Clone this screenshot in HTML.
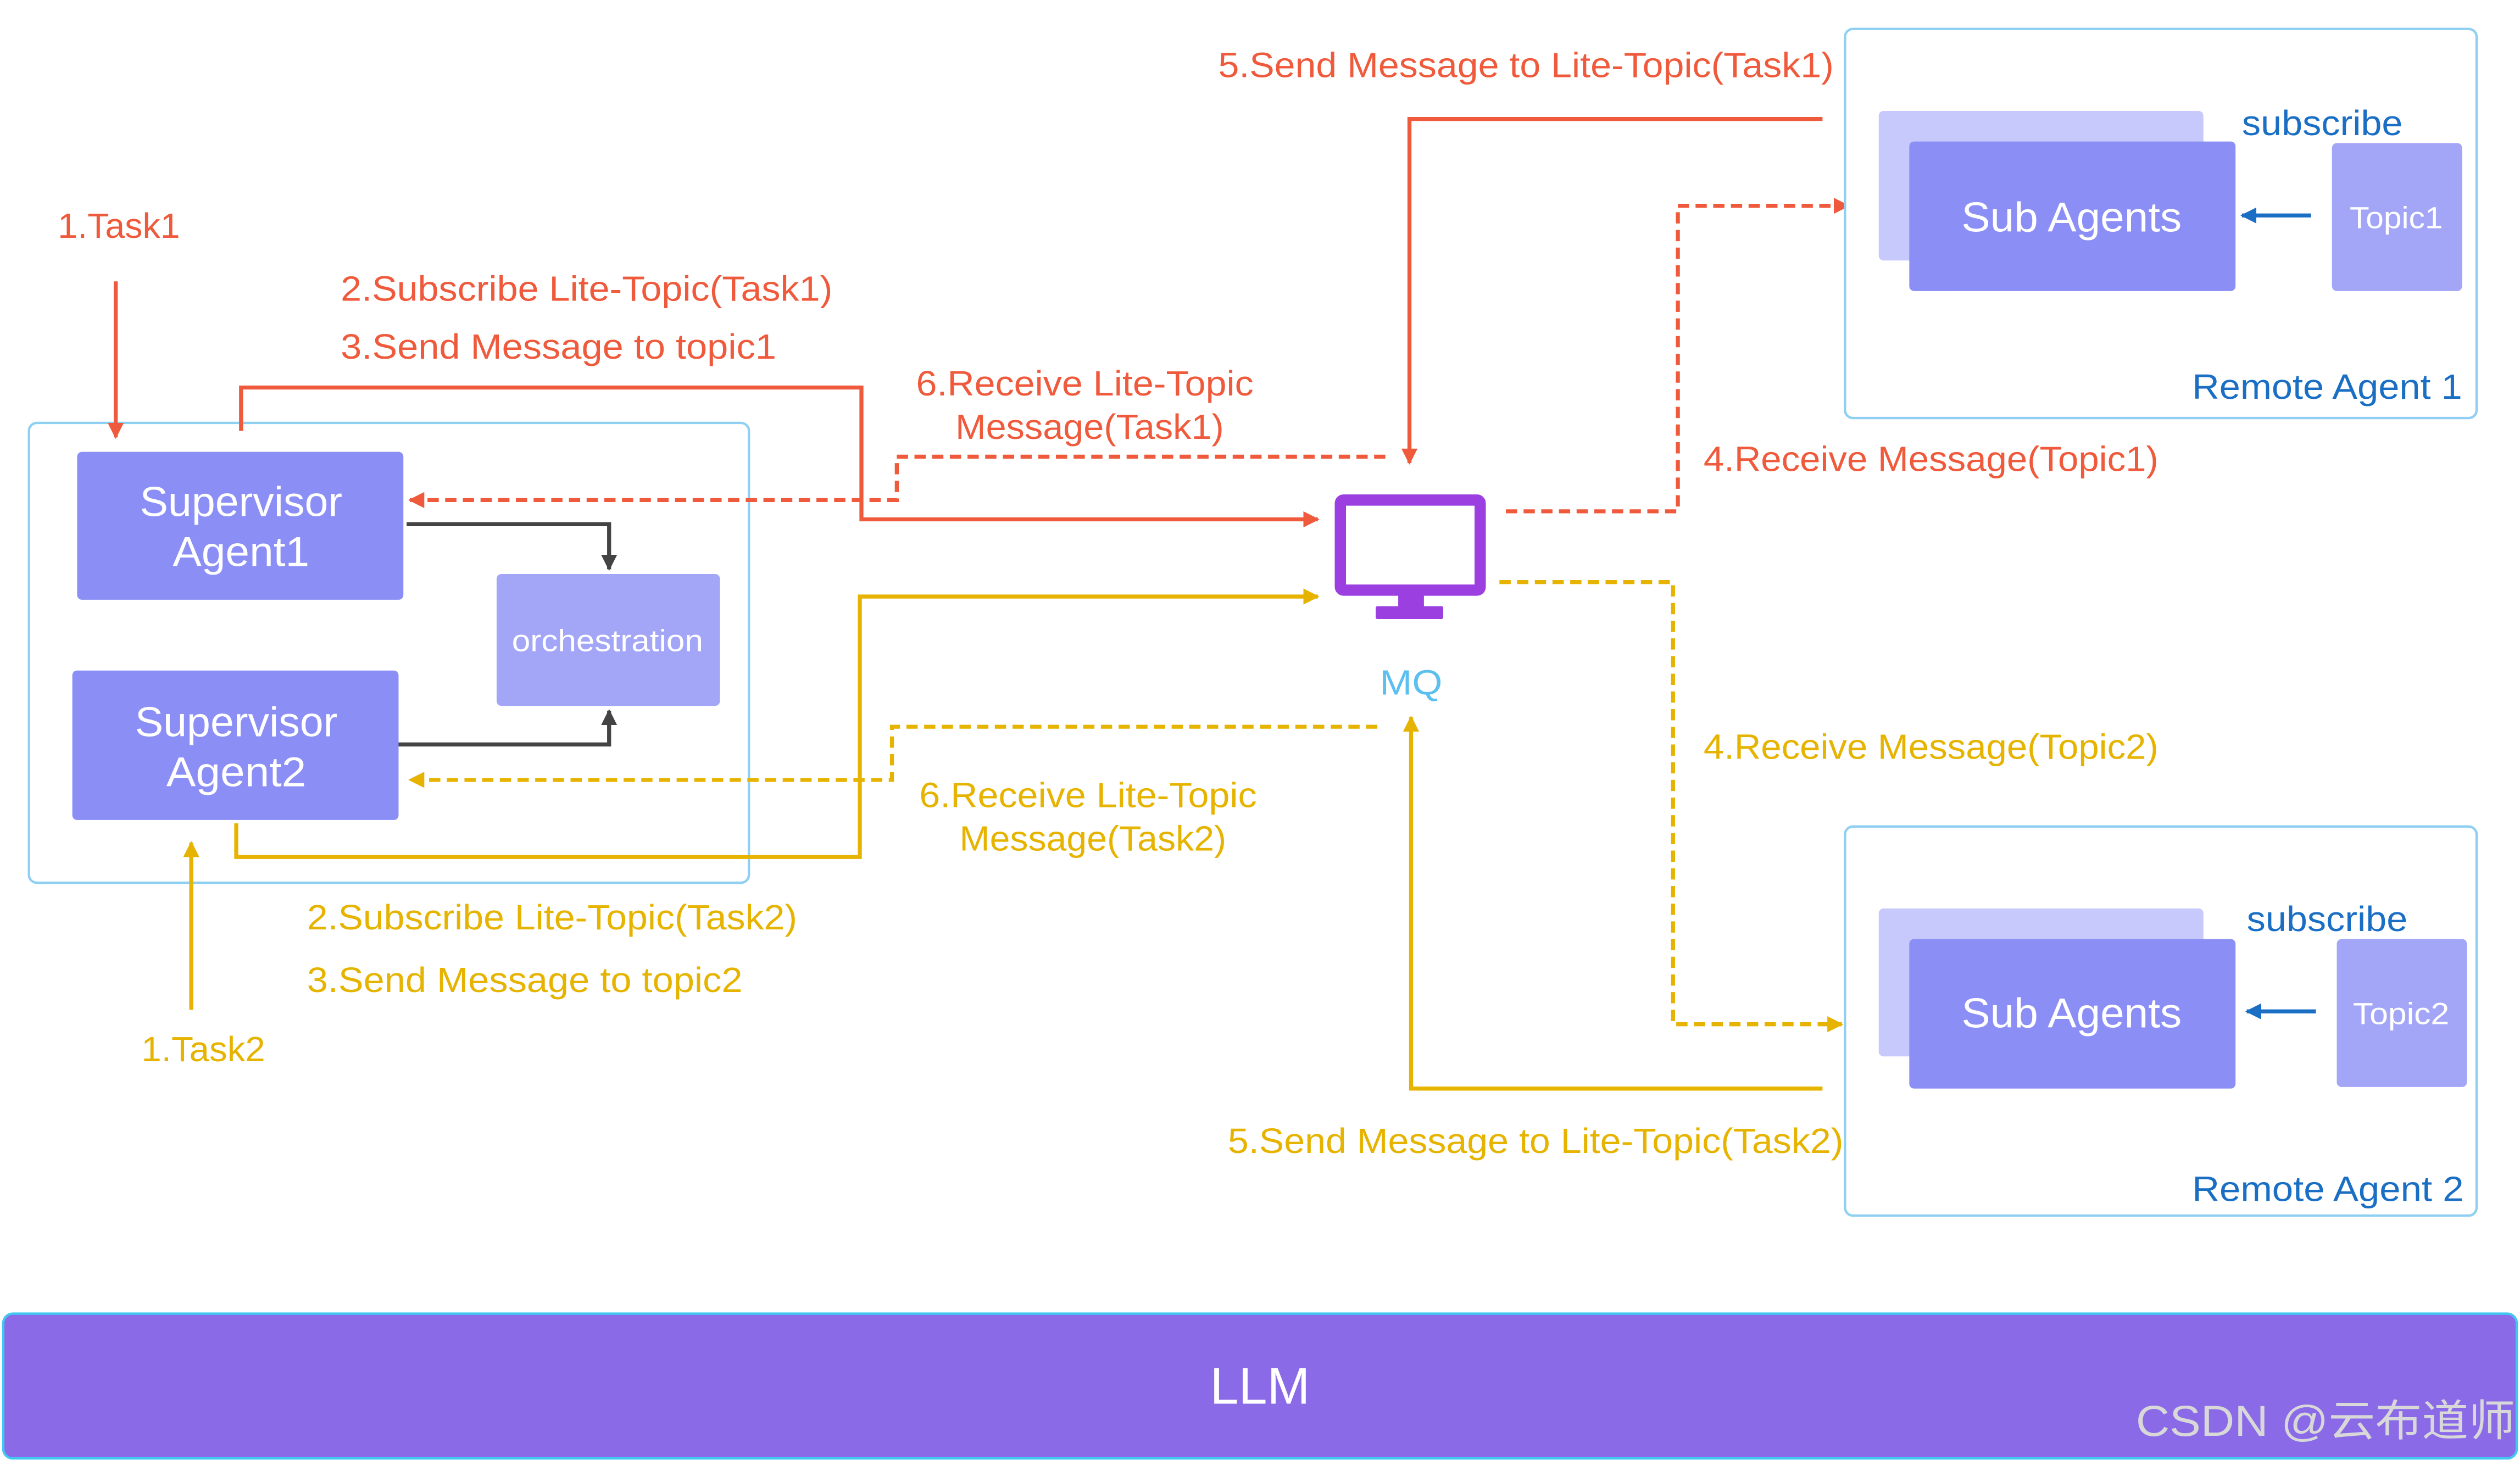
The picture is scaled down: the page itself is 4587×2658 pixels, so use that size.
<!DOCTYPE html>
<html><head><meta charset="utf-8"><style>
html,body{margin:0;padding:0;background:#fff;}
svg{display:block;}
text{font-family:"Liberation Sans","Noto Sans CJK SC",sans-serif;}
</style></head><body>
<svg width="4587" height="2658" viewBox="0 0 1568 908" preserveAspectRatio="none" xmlns="http://www.w3.org/2000/svg">
<defs>
<marker id="ar" viewBox="0 0 10 10" refX="9" refY="5" markerWidth="4" markerHeight="4" orient="auto"><path d="M0,0 L10,5 L0,10 z" fill="#f05a3c"/></marker>
<marker id="ay" viewBox="0 0 10 10" refX="9" refY="5" markerWidth="4" markerHeight="4" orient="auto"><path d="M0,0 L10,5 L0,10 z" fill="#e6b400"/></marker>
<marker id="ak" viewBox="0 0 10 10" refX="9" refY="5" markerWidth="4" markerHeight="4" orient="auto"><path d="M0,0 L10,5 L0,10 z" fill="#444"/></marker>
<marker id="ab" viewBox="0 0 10 10" refX="9" refY="5" markerWidth="4" markerHeight="4" orient="auto"><path d="M0,0 L10,5 L0,10 z" fill="#1a6fc4"/></marker>
</defs>
<rect width="1568" height="908" fill="#fff"/>
<rect x="18" y="263" width="448" height="286" rx="5" fill="#fff" stroke="#8fd0f2" stroke-width="1.5"/>
<rect x="48" y="281" width="203" height="92" rx="3" fill="#8b8ff5"/>
<text x="150" y="321" font-size="26" fill="#fff" text-anchor="middle" textLength="126" lengthAdjust="spacingAndGlyphs">Supervisor</text>
<text x="150" y="352" font-size="26" fill="#fff" text-anchor="middle" textLength="85" lengthAdjust="spacingAndGlyphs">Agent1</text>
<rect x="45" y="417" width="203" height="93" rx="3" fill="#8b8ff5"/>
<text x="147" y="458" font-size="26" fill="#fff" text-anchor="middle" textLength="126" lengthAdjust="spacingAndGlyphs">Supervisor</text>
<text x="147" y="489" font-size="26" fill="#fff" text-anchor="middle" textLength="87" lengthAdjust="spacingAndGlyphs">Agent2</text>
<rect x="309" y="357" width="139" height="82" rx="3" fill="#a3a6f7"/>
<text x="378" y="405" font-size="19" fill="#fff" text-anchor="middle" textLength="119" lengthAdjust="spacingAndGlyphs">orchestration</text>
<path d="M253,326 H379 V354" fill="none" stroke="#444" stroke-width="2.5" marker-end="url(#ak)"/>
<path d="M248,463 H379 V442" fill="none" stroke="#444" stroke-width="2.5" marker-end="url(#ak)"/>
<text x="36" y="148" font-size="22" fill="#f05a3c" textLength="76" lengthAdjust="spacingAndGlyphs">1.Task1</text>
<path d="M72,175 V272" fill="none" stroke="#f05a3c" stroke-width="2.5" marker-end="url(#ar)"/>
<path d="M150,268 V241 H536 V323 H820" fill="none" stroke="#f05a3c" stroke-width="2.5" marker-end="url(#ar)"/>
<path d="M862,284 H558 V311 H255" fill="none" stroke="#f05a3c" stroke-width="2.5" stroke-dasharray="7,4" marker-end="url(#ar)"/>
<path d="M1134,74 H877 V288" fill="none" stroke="#f05a3c" stroke-width="2.5" marker-end="url(#ar)"/>
<path d="M937,318 H1044 V128 H1150" fill="none" stroke="#f05a3c" stroke-width="2.5" stroke-dasharray="7,4" marker-end="url(#ar)"/>
<text x="758" y="48" font-size="22" fill="#f05a3c" textLength="383" lengthAdjust="spacingAndGlyphs">5.Send Message to Lite-Topic(Task1)</text>
<text x="212" y="187" font-size="22" fill="#f05a3c" textLength="306" lengthAdjust="spacingAndGlyphs">2.Subscribe Lite-Topic(Task1)</text>
<text x="212" y="223" font-size="22" fill="#f05a3c" textLength="271" lengthAdjust="spacingAndGlyphs">3.Send Message to topic1</text>
<text x="675" y="246" font-size="22" fill="#f05a3c" text-anchor="middle" textLength="210" lengthAdjust="spacingAndGlyphs">6.Receive Lite-Topic</text>
<text x="678" y="273" font-size="22" fill="#f05a3c" text-anchor="middle" textLength="167" lengthAdjust="spacingAndGlyphs">Message(Task1)</text>
<text x="1060" y="293" font-size="22" fill="#f05a3c" textLength="283" lengthAdjust="spacingAndGlyphs">4.Receive Message(Topic1)</text>
<path d="M147,512 V533 H535 V371 H820" fill="none" stroke="#e6b400" stroke-width="2.5" marker-end="url(#ay)"/>
<path d="M857,452 H555 V485 H255" fill="none" stroke="#e6b400" stroke-width="2.5" stroke-dasharray="7,4" marker-end="url(#ay)"/>
<path d="M1134,677 H878 V446" fill="none" stroke="#e6b400" stroke-width="2.5" marker-end="url(#ay)"/>
<path d="M933,362 H1041 V637 H1146" fill="none" stroke="#e6b400" stroke-width="2.5" stroke-dasharray="7,4" marker-end="url(#ay)"/>
<path d="M119,628 V524" fill="none" stroke="#e6b400" stroke-width="2.5" marker-end="url(#ay)"/>
<text x="1060" y="472" font-size="22" fill="#e6b400" textLength="283" lengthAdjust="spacingAndGlyphs">4.Receive Message(Topic2)</text>
<text x="677" y="502" font-size="22" fill="#e6b400" text-anchor="middle" textLength="210" lengthAdjust="spacingAndGlyphs">6.Receive Lite-Topic</text>
<text x="680" y="529" font-size="22" fill="#e6b400" text-anchor="middle" textLength="166" lengthAdjust="spacingAndGlyphs">Message(Task2)</text>
<text x="191" y="578" font-size="22" fill="#e6b400" textLength="305" lengthAdjust="spacingAndGlyphs">2.Subscribe Lite-Topic(Task2)</text>
<text x="191" y="617" font-size="22" fill="#e6b400" textLength="271" lengthAdjust="spacingAndGlyphs">3.Send Message to topic2</text>
<text x="88" y="660" font-size="22" fill="#e6b400" textLength="77" lengthAdjust="spacingAndGlyphs">1.Task2</text>
<text x="764" y="717" font-size="22" fill="#e6b400" textLength="383" lengthAdjust="spacingAndGlyphs">5.Send Message to Lite-Topic(Task2)</text>
<rect x="834" y="311" width="87" height="56" rx="2" fill="#fff" stroke="#9b3fe0" stroke-width="7"/>
<rect x="870" y="370" width="16" height="8" fill="#9b3fe0"/>
<rect x="856" y="377" width="42" height="8" rx="1" fill="#9b3fe0"/>
<text x="878" y="432" font-size="22" fill="#5bc0f0" text-anchor="middle" textLength="39" lengthAdjust="spacingAndGlyphs">MQ</text>
<rect x="1148" y="18" width="393" height="242" rx="5" fill="#fff" stroke="#8fd0f2" stroke-width="1.5"/>
<rect x="1169" y="69" width="202" height="93" rx="3" fill="#c7c8fb"/>
<rect x="1188" y="88" width="203" height="93" rx="3" fill="#8b8ff5"/>
<text x="1289" y="144" font-size="26" fill="#fff" text-anchor="middle" textLength="137" lengthAdjust="spacingAndGlyphs">Sub Agents</text>
<rect x="1451" y="89" width="81" height="92" rx="3" fill="#a3a6f7"/>
<text x="1491" y="142" font-size="19" fill="#fff" text-anchor="middle" textLength="58" lengthAdjust="spacingAndGlyphs">Topic1</text>
<path d="M1438,134 H1395" fill="none" stroke="#1a6fc4" stroke-width="2.5" marker-end="url(#ab)"/>
<text x="1395" y="84" font-size="22" fill="#1a6fc4" textLength="100" lengthAdjust="spacingAndGlyphs">subscribe</text>
<text x="1532" y="248" font-size="22" fill="#1a6fc4" text-anchor="end" textLength="168" lengthAdjust="spacingAndGlyphs">Remote Agent 1</text>
<rect x="1148" y="514" width="393" height="242" rx="5" fill="#fff" stroke="#8fd0f2" stroke-width="1.5"/>
<rect x="1169" y="565" width="202" height="92" rx="3" fill="#c7c8fb"/>
<rect x="1188" y="584" width="203" height="93" rx="3" fill="#8b8ff5"/>
<text x="1289" y="639" font-size="26" fill="#fff" text-anchor="middle" textLength="137" lengthAdjust="spacingAndGlyphs">Sub Agents</text>
<rect x="1454" y="584" width="81" height="92" rx="3" fill="#a3a6f7"/>
<text x="1494" y="637" font-size="19" fill="#fff" text-anchor="middle" textLength="60" lengthAdjust="spacingAndGlyphs">Topic2</text>
<path d="M1441,629 H1398" fill="none" stroke="#1a6fc4" stroke-width="2.5" marker-end="url(#ab)"/>
<text x="1398" y="579" font-size="22" fill="#1a6fc4" textLength="100" lengthAdjust="spacingAndGlyphs">subscribe</text>
<text x="1533" y="747" font-size="22" fill="#1a6fc4" text-anchor="end" textLength="169" lengthAdjust="spacingAndGlyphs">Remote Agent 2</text>
<rect x="2" y="817" width="1564" height="90" rx="6" fill="#8b6ae8" stroke="#40c8f0" stroke-width="1.5"/>
<text x="784" y="873" font-size="32" fill="#fff" text-anchor="middle">LLM</text>
<text x="1565" y="893" font-size="27" fill="#d8d8d8" text-anchor="end" textLength="236" lengthAdjust="spacingAndGlyphs">CSDN @云布道师</text>
</svg>
</body></html>
